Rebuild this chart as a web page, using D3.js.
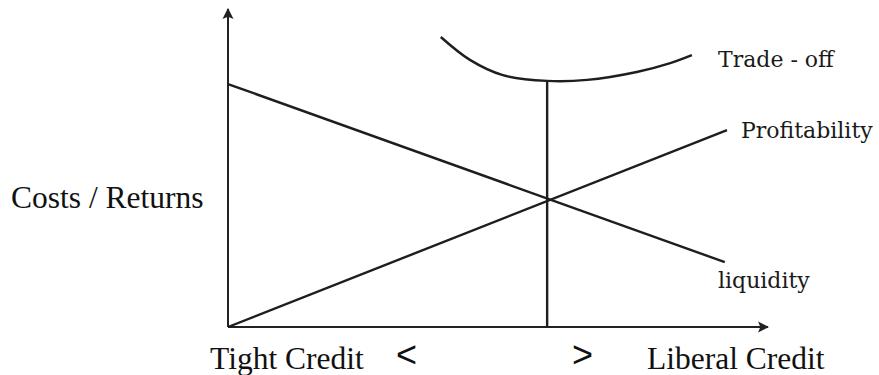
<html>
<head>
    <meta charset="utf-8">
    <title>Trade-off</title>
    <style>
        body { margin: 0; background: #fff; }
        .lab { font-family: "DejaVu Serif"; font-size: 22px; fill: #1a1a1a; }
        .big { font-family: "Liberation Serif"; font-size: 31.5px; fill: #111; }
        .sym { font-family: "Liberation Sans"; font-size: 36px; fill: #111; }
    </style>
</head>
<body>
    <script src="https://cdn.jsdelivr.net/npm/d3@7/dist/d3.min.js"></script>
    <script>
        var width = 879, height = 375;

        // values (0-100 on both axes)
        var liquidity = [[0, 76.4], [92, 20.4]];
        var profitability = [[0, 0], [92.4, 61.9]];
        var tradeOff = [[39.4, 91.2], [44.8, 84], [50.9, 79.2], [59.1, 77.4], [66.5, 77.7], [75.7, 80.2], [81.9, 83], [85.9, 85.5]];
        var optimum = [59.1, 77.4];

        var svg = d3.select("body")
            .append("svg")
            .attr("width", width)
            .attr("height", height);

        var x = d3.scaleLinear().domain([0, 100]).range([228, 768]);
        var y = d3.scaleLinear().domain([0, 100]).range([327, 9]);

        // arrow heads
        var defs = svg.append("defs");
        defs.append("marker")
            .attr("id", "arr")
            .attr("viewBox", "0 0 10 10")
            .attr("refX", 9).attr("refY", 5)
            .attr("markerWidth", 11).attr("markerHeight", 13)
            .attr("markerUnits", "userSpaceOnUse")
            .attr("orient", "auto")
            .append("path")
            .attr("d", "M0,0L10,5L0,10L2,5Z")
            .attr("fill", "#222");

        // axes
        svg.append("line")
            .attr("x1", x(0)).attr("y1", y(0))
            .attr("x2", x(0)).attr("y2", y(100))
            .attr("stroke", "#222").attr("stroke-width", 2)
            .attr("marker-end", "url(#arr)");
        svg.append("line")
            .attr("x1", x(0)).attr("y1", y(0))
            .attr("x2", x(100)).attr("y2", y(0))
            .attr("stroke", "#222").attr("stroke-width", 2)
            .attr("marker-end", "url(#arr)");

        var line = d3.line()
            .x(d => x(d[0]))
            .y(d => y(d[1]));

        svg.append("path")
            .attr("d", line(liquidity))
            .attr("fill", "none").attr("stroke", "#1e1e1e").attr("stroke-width", 2.4);
        svg.append("path")
            .attr("d", line(profitability))
            .attr("fill", "none").attr("stroke", "#1e1e1e").attr("stroke-width", 2.4);
        svg.append("path")
            .attr("d", line.curve(d3.curveCatmullRom)(tradeOff))
            .attr("fill", "none").attr("stroke", "#1e1e1e").attr("stroke-width", 2.4);

        // optimum line
        svg.append("line")
            .attr("x1", x(optimum[0])).attr("y1", y(optimum[1]))
            .attr("x2", x(optimum[0])).attr("y2", y(0))
            .attr("stroke", "#1e1e1e").attr("stroke-width", 2.4);

        // labels
        svg.append("text").attr("class", "lab").attr("x", 718).attr("y", 67).text("Trade - off");
        svg.append("text").attr("class", "lab").attr("x", 741).attr("y", 138).text("Profitability");
        svg.append("text").attr("class", "lab").attr("x", 718).attr("y", 288).text("liquidity");

        svg.append("text").attr("class", "big").attr("x", 11).attr("y", 208).text("Costs / Returns");
        svg.append("text").attr("class", "big").attr("x", 210).attr("y", 369).text("Tight Credit");
        svg.append("text").attr("class", "big").attr("x", 647).attr("y", 369).text("Liberal Credit");
        svg.append("text").attr("class", "sym").attr("x", 396).attr("y", 367).text("<");
        svg.append("text").attr("class", "sym").attr("x", 572).attr("y", 367).text(">");
    </script>
</body>
</html>
